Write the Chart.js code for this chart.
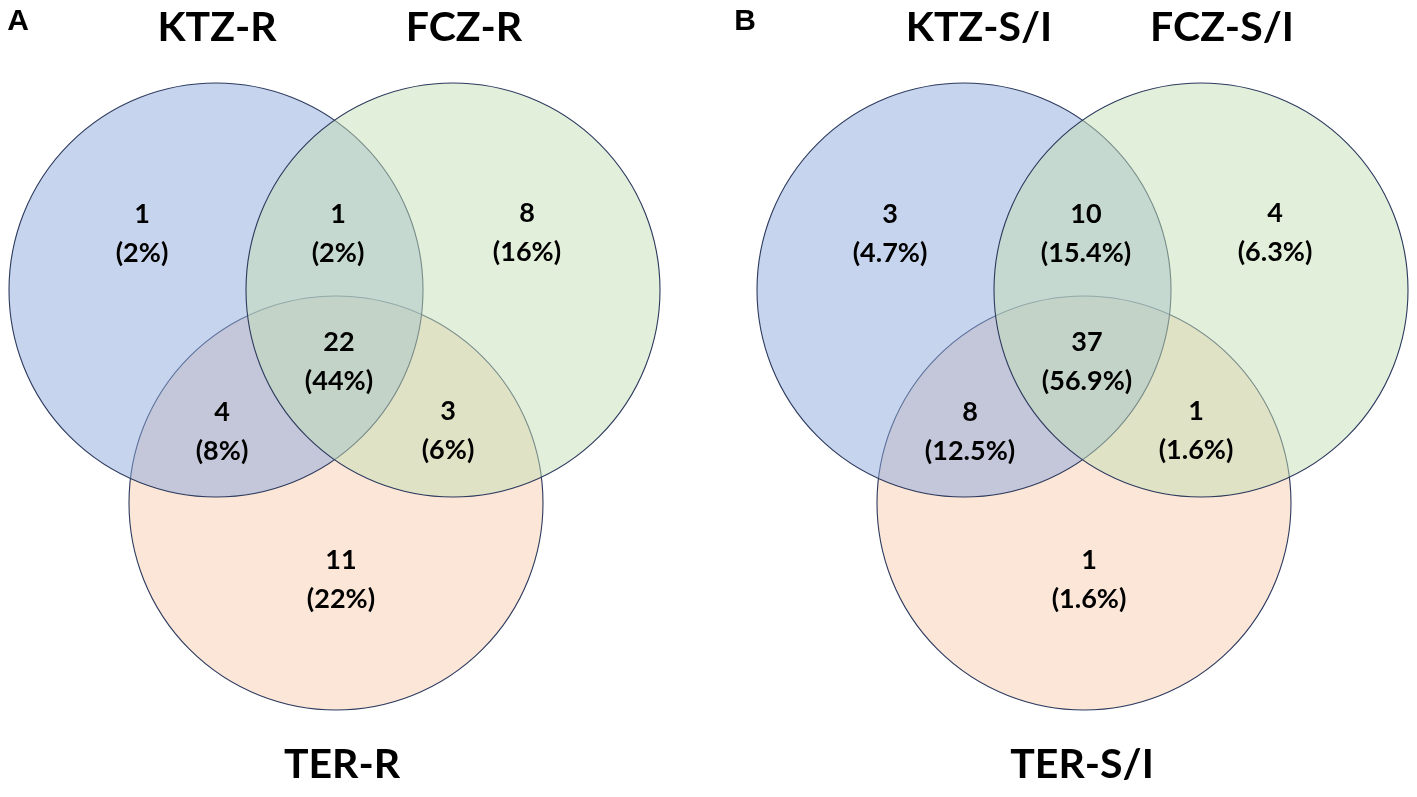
<!DOCTYPE html>
<html>
<head>
<meta charset="utf-8">
<title>Venn – resistant vs susceptible</title>
<script src="https://cdn.jsdelivr.net/npm/chart.js@4.4.1/dist/chart.umd.min.js"></script>
<style>
  html, body { margin:0; padding:0; background:#fff; }
  #wrap { position:relative; width:1417px; height:797px; }
</style>
</head>
<body>
<div id="wrap"><canvas id="venn"></canvas></div>
<script>
// --- Data ---
const panelLetters = ['A', 'B'];
const setNamesA = ['KTZ-R', 'FCZ-R', 'TER-R'];
const setNamesB = ['KTZ-S/I', 'FCZ-S/I', 'TER-S/I'];
// regions: KTZ only, KTZ∩FCZ, FCZ only, KTZ∩TER, all three, FCZ∩TER, TER only
const countsA = [1, 1, 8, 4, 22, 3, 11];
const pctA = ['2%', '2%', '16%', '8%', '44%', '6%', '22%'];
const countsB = [3, 10, 4, 8, 37, 1, 1];
const pctB = ['4.7%', '15.4%', '6.3%', '12.5%', '56.9%', '1.6%', '1.6%'];

// --- Layout (axis units = reference pixels) ---
const W = 1417, H = 797;
const panelOffset = [0, 748];
const letterX = [18, 745];
const circleR = 207;
const circleCenters = [[216, 290], [453, 290], [336, 503]];   // KTZ, FCZ, TER
const regionPos = [[142, 214], [338, 214], [527, 213], [222, 412], [339, 342], [448, 411], [341, 560]];
const lineGap = 39;
const titleX = [[217, 464, 342], [231, 474, 334]];
const titleY = [28, 28, 765];
// half-transparent fills; drawn TER first, then KTZ, FCZ on top
const fills = ['rgba(141,169,219,0.5)', 'rgba(197,223,181,0.5)', 'rgba(247,205,175,0.5)'];
const drawOrder = [2, 1, 3];
const outline = '#2c3a5e';

const panels = [
  { names: setNamesA, counts: countsA, pct: pctA },
  { names: setNamesB, counts: countsB, pct: pctB }
];

const radiusPx = chart => {
  const s = chart.scales.x;
  return s.getPixelForValue(circleR) - s.getPixelForValue(0);
};

// one dataset per drug set, one point per panel
const datasets = circleCenters.map((c, i) => ({
  label: setNamesA[i] + ' / ' + setNamesB[i],
  data: panelOffset.map(off => ({ x: off + c[0], y: c[1] })),
  pointStyle: 'circle',
  pointRadius: ctx => radiusPx(ctx.chart),
  pointHoverRadius: ctx => radiusPx(ctx.chart),
  pointBackgroundColor: fills[i],
  pointBorderColor: outline,
  pointBorderWidth: 1.1,
  order: drawOrder[i],
  clip: false
}));

// --- Text labels drawn through the scales ---
const labelPlugin = {
  id: 'vennLabels',
  afterDatasetsDraw(chart) {
    const { ctx } = chart;
    const px = v => chart.scales.x.getPixelForValue(v);
    const py = v => chart.scales.y.getPixelForValue(v);
    ctx.save();
    ctx.fillStyle = '#000';
    ctx.textAlign = 'center';
    ctx.textBaseline = 'middle';
    panels.forEach((p, k) => {
      const off = panelOffset[k];
      ctx.font = 'bold 30px "Liberation Sans", Arial, sans-serif';
      ctx.fillText(panelLetters[k], px(letterX[k]), py(22));
      ctx.font = 'bold 41px Lato, "Open Sans", sans-serif';
      p.names.forEach((n, i) => ctx.fillText(n, px(off + titleX[k][i]), py(titleY[i])));
      ctx.font = 'bold 27px Lato, "Open Sans", sans-serif';
      p.counts.forEach((c, i) => {
        const [x, y] = regionPos[i];
        ctx.fillText(String(c), px(off + x), py(y));
        ctx.fillText('(' + p.pct[i] + ')', px(off + x), py(y + lineGap));
      });
    });
    ctx.restore();
  }
};

new Chart(document.getElementById('venn'), {
  type: 'scatter',
  data: { datasets },
  options: {
    responsive: true,
    maintainAspectRatio: false,
    animation: false,
    events: [],
    layout: { padding: 0 },
    scales: {
      x: { type: 'linear', min: 0, max: W, display: false },
      y: { type: 'linear', min: 0, max: H, reverse: true, display: false }
    },
    plugins: { legend: { display: false }, tooltip: { enabled: false } }
  },
  plugins: [labelPlugin]
});
</script>
</body>
</html>
